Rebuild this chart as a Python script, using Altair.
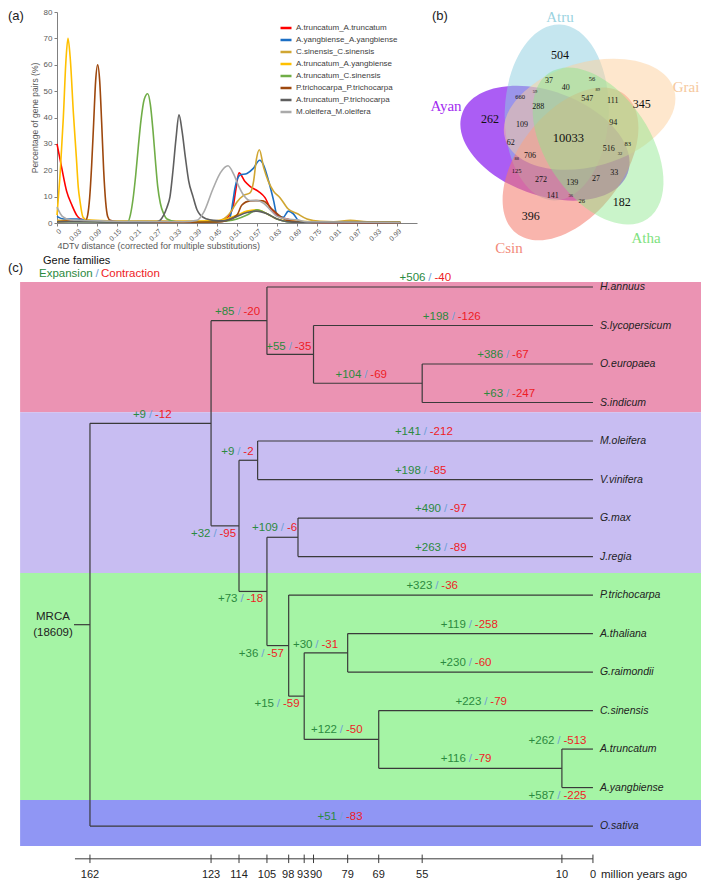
import math
import altair as alt
import pandas as pd

FONT = "Liberation Sans"
SERIF = "Liberation Serif"

# Whole figure is one view of W x H pixels; every panel has its own scales placed by range.
W, H = 693, 872

# ============================ (a) 4DTv distributions ============================
SERIES = [
    "A.truncatum_A.truncatum", "A.yangbiense_A.yangbiense", "C.sinensis_C.sinensis",
    "A.truncatum_A.yangbiense", "A.truncatum_C.sinensis", "P.trichocarpa_P.trichocarpa",
    "A.truncatum_P.trichocarpa", "M.oleifera_M.oleifera",
]
SERIES_COLORS = ["#ff0000", "#1c6fc4", "#d0a632", "#ffc000", "#70ad47", "#9e480e", "#5f5f5f", "#aaaaaa"]
X_TICKS_A = [0, 0.03, 0.09, 0.15, 0.21, 0.27, 0.33, 0.39, 0.45, 0.51, 0.57, 0.63,
             0.69, 0.75, 0.81, 0.87, 0.93, 0.99]
Y_TICKS_A = [0, 10, 20, 30, 40, 50, 60, 70, 80]

tt_x = [0, 0.007, 0.0145, 0.022, 0.03, 0.04, 0.06, 0.1, 0.2, 0.3, 0.4, 0.45, 0.47, 0.49,
        0.498, 0.507, 0.516, 0.534, 0.549, 0.574, 0.594, 0.609, 0.62, 0.64, 0.66, 0.7, 0.8, 1.0]
tt_y = [30, 21, 12, 7, 2.8, 1.5, 1.0, 0.6, 0.3, 0.3, 0.3, 0.6, 1.2, 3.5,
        6, 13, 19, 15.7, 13.9, 12, 9.6, 5.9, 4, 2.2, 1.5, 0.4, 0.2, 0.1]
yy_x = [0, 0.01, 0.03, 0.05, 0.1, 0.2, 0.45, 0.48, 0.489, 0.498, 0.504, 0.519, 0.54,
        0.559, 0.578, 0.59, 0.605, 0.62, 0.629, 0.649, 0.664, 0.678, 0.699, 0.75, 1.0]
yy_y = [2.5, 1.5, 1.5, 1.2, 0.5, 0.4, 0.5, 1.2, 2.2, 8.4, 13.3, 18.2, 18.8,
        20.7, 23.8, 21.9, 15.8, 8.4, 3.5, 2.2, 4.5, 3.6, 0.5, 0.3, 0.2]
cc_x = [0, 0.05, 0.2, 0.4, 0.46, 0.48, 0.494, 0.51, 0.53, 0.549, 0.56, 0.568, 0.577,
        0.59, 0.604, 0.62, 0.639, 0.663, 0.69, 0.72, 0.76, 0.8, 0.85, 0.9, 1.0]
cc_y = [1, 0.8, 0.8, 0.6, 1, 2.5, 4.7, 8, 10.5, 11.4, 16, 24, 27.8,
        21, 15.8, 12, 9.6, 5.4, 3.6, 1.5, 0.6, 0.5, 1.0, 0.5, 0.3]
ty_x = [0, 0.005, 0.0095, 0.0135, 0.0165, 0.02, 0.0245, 0.029, 0.034, 0.039, 0.048, 0.06,
        0.12, 0.3, 0.45, 0.51, 0.54, 0.57, 0.6, 0.63, 0.66, 0.8, 1.0]
ty_y = [3, 20, 40, 62, 70, 62, 42, 25, 13.3, 8.3, 2.2, 1.2,
        0.8, 0.5, 0.8, 3, 4.5, 5, 3.5, 1.5, 0.8, 0.4, 0.3]
tc_x = [0, 0.1, 0.17, 0.183, 0.19, 0.198, 0.206, 0.214, 0.222, 0.232, 0.242, 0.25, 0.258,
        0.265, 0.272, 0.28, 0.29, 0.3, 0.33, 0.4, 0.48, 0.51, 0.54, 0.57, 0.6, 0.63, 0.66, 0.7, 1.0]
tc_y = [0.5, 0.5, 0.3, 0.5, 3, 9, 18, 29, 39, 47, 49, 45, 35,
        24, 14, 7.5, 3.5, 1.5, 0.4, 0.3, 0.8, 1.5, 3, 5, 3.5, 1.5, 0.5, 0.3, 0.2]
pp_x = [0, 0.03, 0.055, 0.062, 0.068, 0.074, 0.08, 0.086, 0.092, 0.098, 0.104, 0.11, 0.116,
        0.122, 0.13, 0.15, 0.3, 0.45, 0.48, 0.51, 0.524, 0.549, 0.57, 0.588, 0.614, 0.64, 0.66, 0.7, 1.0]
pp_y = [0.5, 0.8, 0.8, 3, 9.6, 22, 38, 54, 60, 54, 38, 20, 8,
        2.5, 1, 0.5, 0.3, 0.4, 1, 3, 6.7, 8.4, 8.5, 8.4, 5.4, 2.5, 1, 0.3, 0.2]
tp_x = [0, 0.03, 0.2, 0.27, 0.279, 0.29, 0.3, 0.309, 0.318, 0.327, 0.336, 0.345, 0.355, 0.365,
        0.378, 0.39, 0.4, 0.42, 0.44, 0.47, 0.5, 0.54, 0.57, 0.6, 0.63, 0.66, 0.7, 1.0]
tp_y = [0.5, 0.5, 0.3, 0.5, 1, 3, 6, 10, 20, 32, 41, 35, 25, 16,
        10, 5, 3, 1.5, 1, 0.8, 2, 4, 4.5, 3.5, 1.5, 0.5, 0.3, 0.2]
mm_x = [0, 0.008, 0.02, 0.05, 0.1, 0.2, 0.35, 0.39, 0.41, 0.438, 0.46, 0.483, 0.5, 0.515,
        0.53, 0.55, 0.57, 0.59, 0.61, 0.63, 0.66, 0.69, 0.72, 1.0]
mm_y = [6, 2.5, 1.2, 1, 0.8, 0.6, 0.5, 1, 4, 13, 19, 21.7, 18.5, 14,
        10.5, 8.5, 8.5, 7.5, 5, 2.5, 1.5, 1.2, 0.5, 0.2]

CURVE_X = [tt_x, yy_x, cc_x, ty_x, tc_x, pp_x, tp_x, mm_x]
CURVE_Y = [tt_y, yy_y, cc_y, ty_y, tc_y, pp_y, tp_y, mm_y]

rows = []
for name, xs, ys in zip(SERIES, CURVE_X, CURVE_Y):
    for k, (xv, yv) in enumerate(zip(xs, ys)):
        rows.append({"pair": name, "dist": xv, "pct": yv, "k": k})
df_a = pd.DataFrame(rows)

# panel (a) placement inside the figure (pixels)
A_LEFT, A_RIGHT, A_TOP, A_BOTTOM = 49, 409, 4, 215
AX_GRAY = "#808080"
TXT_GRAY = "#595959"

lines_a = alt.Chart(df_a).mark_line(interpolate="monotone", strokeWidth=1.6).encode(
    x=alt.X("dist:Q",
            scale=alt.Scale(domain=[0, 0.03, 1.05], range=[A_LEFT, A_LEFT + 20, A_RIGHT],
                            nice=False, zero=False),
            axis=alt.Axis(orient="bottom", offset=A_BOTTOM - H, values=X_TICKS_A, format=".2~f",
                          labelAngle=315, labelFontSize=7, labelColor=TXT_GRAY, labelPadding=1,
                          tickSize=3, tickColor=AX_GRAY, domainColor=AX_GRAY, grid=False,
                          labelFont=FONT, titleFont=FONT,
                          title="4DTv distance (corrected for multiple substitutions)",
                          titleFontSize=9, titleColor=TXT_GRAY, titleFontWeight="normal",
                          titlePadding=0, titleAnchor="start")),
    y=alt.Y("pct:Q", scale=alt.Scale(domain=[0, 80], range=[A_BOTTOM, A_TOP], nice=False),
            axis=alt.Axis(orient="left", offset=-A_LEFT, values=Y_TICKS_A, labelFontSize=8,
                          labelColor=TXT_GRAY, tickSize=3, tickColor=AX_GRAY, domainColor=AX_GRAY,
                          grid=False, labelPadding=2, labelFont=FONT, titleFont=FONT,
                          title="Percentage of gene pairs (%)", titleFontSize=8.5,
                          titleColor=TXT_GRAY, titleFontWeight="normal", titlePadding=4)),
    color=alt.Color("pair:N", scale=alt.Scale(domain=SERIES, range=SERIES_COLORS),
                    legend=alt.Legend(title=None, orient="none", legendX=A_LEFT + 222, legendY=13,
                                      symbolType="stroke", symbolStrokeWidth=2.5, symbolSize=121,
                                      labelFontSize=8, labelColor="#404040", rowPadding=0,
                                      labelOffset=3, labelFont=FONT)),
    order="k:Q",
)
letter_a = alt.Chart(pd.DataFrame({"t": ["(a)"]})).mark_text(
    align="left", baseline="middle", fontSize=13, font=FONT, color="#222222"
).encode(text="t:N", x=alt.value(0), y=alt.value(8))
layer_a = alt.layer(lines_a, letter_a)

# ============================ (b) Venn diagram ============================
VENN_SETS = ["Ayan", "Atru", "Csin", "Grai", "Atha"]
VENN_LABEL_COLORS = ["#a22cf0", "#9bd3df", "#f28a7a", "#f6c89c", "#7ee27e"]
VENN_FILL = ["#8a1ff0", "#8ccde0", "#f4786a", "#fdd09c", "#8ae68a"]
VENN_ALPHA = [0.72, 0.5, 0.55, 0.5, 0.45]
REGION_COUNTS = [504, 345, 182, 396, 262, 10033, 37, 56, 40, 89, 660, 59, 547, 111, 288, 94,
                 109, 62, 516, 83, 32, 88, 706, 125, 33, 272, 139, 27, 141, 36, 26]

B_LEFT, B_W, B_H = 422, 271, 248
G_U, G_V, D_OFF = 142, 128, 28
ELL_A, ELL_B = 88, 52
CENTER_DIR = [165, 237, 93, 309, 21]
ELL_ROT = [20, 92, 128, 164, 56]
LABEL_UV = [(16, 98), (130, 9), (79, 240), (256, 79), (216, 230)]
REGION_UV = [(130, 47), (211.7, 96.3), (191.7, 193.7), (100.7, 208), (60, 111), (138.3, 130.3),
             (119, 73), (162, 71.3), (135.7, 80.3), (167.7, 82), (90, 89.3), (105, 84.3),
             (157.3, 91.3), (182.7, 93), (108.3, 98.7), (183.3, 114.7), (92, 117), (80.7, 134.7),
             (178.7, 141), (197.7, 136.3), (190, 146), (86.7, 150.7), (100, 147.7), (86.7, 163),
             (184.3, 164.7), (111, 172), (142.3, 174.7), (166, 171), (122.7, 187.7),
             (140.7, 187.7), (151.7, 192.7)]
REGION_FS = [12, 12, 12, 12, 12, 12.5, 8, 6.5, 8, 4.5, 6.5, 4.5, 8, 8, 8, 8, 8, 8, 8, 6.5, 4.5,
             4.5, 8, 6.5, 8, 8, 8, 8, 8, 4.5, 6.5]

df_ell = pd.DataFrame({
    "set": VENN_SETS,
    "u": [G_U + D_OFF * math.cos(math.radians(c)) for c in CENTER_DIR],
    "v": [G_V + D_OFF * math.sin(math.radians(c)) for c in CENTER_DIR],
    "fill": VENN_FILL, "alpha": VENN_ALPHA, "rot": ELL_ROT,
})
ratio = ELL_B / ELL_A
ELL_PATH = f"M-1,0A1,{ratio:.3f},0,1,1,1,0A1,{ratio:.3f},0,1,1,-1,0Z"

xb = alt.X("u:Q", scale=alt.Scale(domain=[0, B_W], range=[B_LEFT, B_LEFT + B_W], nice=False, zero=False),
           axis=None)
yb = alt.Y("v:Q", scale=alt.Scale(domain=[0, B_H], range=[0, B_H], nice=False, zero=False), axis=None)

ellipses = alt.Chart(df_ell).mark_point(
    shape=ELL_PATH, filled=True, size=(2 * ELL_A) ** 2, strokeWidth=0
).encode(
    x=xb, y=yb,
    fill=alt.Fill("fill:N", scale=None),
    opacity=alt.Opacity("alpha:Q", scale=None),
    angle=alt.Angle("rot:Q", scale=None),
)
df_setlab = pd.DataFrame({"set": VENN_SETS, "u": [p[0] for p in LABEL_UV],
                          "v": [p[1] for p in LABEL_UV], "col": VENN_LABEL_COLORS})
set_labels = alt.Chart(df_setlab).mark_text(font=SERIF, fontSize=15).encode(
    x=xb, y=yb, text="set:N", fill=alt.Fill("col:N", scale=None))
df_reg = pd.DataFrame({"n": [str(c) for c in REGION_COUNTS], "u": [p[0] for p in REGION_UV],
                       "v": [p[1] for p in REGION_UV], "fs": REGION_FS})
region_labels = alt.Chart(df_reg).mark_text(font=SERIF, color="#111111").encode(
    x=xb, y=yb, text="n:N", size=alt.Size("fs:Q", scale=None))
letter_b = alt.Chart(pd.DataFrame({"t": ["(b)"]})).mark_text(
    align="left", baseline="middle", fontSize=13, font=FONT, color="#222222"
).encode(text="t:N", x=alt.value(B_LEFT + 2), y=alt.value(8))
layer_b = alt.layer(ellipses, set_labels, region_labels, letter_b)

# ============================ (c) phylogeny ============================
TIPS = ["H.annuus", "S.lycopersicum", "O.europaea", "S.indicum", "M.oleifera", "V.vinifera",
        "G.max", "J.regia", "P.trichocarpa", "A.thaliana", "G.raimondii", "C.sinensis",
        "A.truncatum", "A.yangbiense", "O.sativa"]
NODE_NAMES = ["root", "n123", "ast105", "ast90", "ast55", "n114", "nX", "nY", "nZ", "nW",
              "nV", "nU", "nT", "nS"]
NODE_AGES = [162, 123, 105, 90, 55, 114, 108, 105, 95, 98, 93, 79, 69, 10]
NODE_CHILDREN = [["n123", "O.sativa"], ["ast105", "n114"], ["H.annuus", "ast90"],
                 ["S.lycopersicum", "ast55"], ["O.europaea", "S.indicum"], ["nX", "nY"],
                 ["M.oleifera", "V.vinifera"], ["nZ", "nW"], ["G.max", "J.regia"],
                 ["P.trichocarpa", "nV"], ["nU", "nT"], ["A.thaliana", "G.raimondii"],
                 ["C.sinensis", "nS"], ["A.truncatum", "A.yangbiense"]]
BRANCH = ["H.annuus", "S.lycopersicum", "O.europaea", "S.indicum", "M.oleifera", "V.vinifera",
          "G.max", "J.regia", "P.trichocarpa", "A.thaliana", "G.raimondii", "C.sinensis",
          "A.truncatum", "A.yangbiense", "O.sativa", "n123", "ast105", "ast90", "ast55", "nX",
          "n114", "nZ", "nY", "nW", "nU", "nV", "nT", "nS"]
GAIN = [506, 198, 386, 63, 141, 198, 490, 263, 323, 119, 230, 223, 262, 587, 51,
        9, 85, 55, 104, 9, 32, 109, 73, 36, 30, 15, 122, 116]
LOSS = [40, 126, 67, 247, 212, 85, 97, 89, 36, 258, 60, 79, 513, 225, 83,
        12, 20, 35, 69, 2, 95, 6, 18, 57, 31, 59, 50, 79]
AXIS_TICKS_C = [162, 123, 114, 105, 98, 93, 90, 79, 69, 55, 10, 0]
AXIS_LABEL_NUDGE = [0, 0, 0, 0, -0.5, -1, 2.5, 0, 0, 0, 0, 0]   # px, keeps 98/93/90 apart
MRCA_FAMILIES = 18609

GREEN_T = "#2b8a3e"
RED_T = "#ee1c25"
SLASH_T = "#6fa0d8"
LINE_C = "#3a3a3a"

C_TOP = 248
X_DOM = [188.4, -34.8]
Y_DOM = [-0.805, 15.40]
PPM = W / (X_DOM[0] - X_DOM[1])               # pixels per million years
PPT = (H - C_TOP) / (Y_DOM[1] - Y_DOM[0])     # pixels per tip row

LABEL_SHIFT = {"ast90": (0, -7), "ast55": (-2, -8), "nX": (-9.5, -8), "n114": (-10, 8),
               "nY": (-11, 8), "nW": (-15, 8), "nU": (-9, -8), "nV": (-18, 8),
               "A.truncatum": (-18.5, -8), "A.yangbiense": (-18.5, 8),
               "P.trichocarpa": (-4, -9), "n123": (0, -8)}
BAND_EDGES = [-0.13, 3.25, 7.43, 13.32, 14.52]
BAND_COLORS = ["#eb93b3", "#c8bdf2", "#a5f4a5", "#9096f4"]
BAND_LEFT_AGE = 184.5
T_AXIS = 14.85

age = {t: 0.0 for t in TIPS}
ypos = {t: float(i) for i, t in enumerate(TIPS)}
children = dict(zip(NODE_NAMES, NODE_CHILDREN))
for n, a in zip(NODE_NAMES, NODE_AGES):
    age[n] = float(a)


def node_y(n):
    if n in ypos:
        return ypos[n]
    ys = [node_y(c) for c in children[n]]
    ypos[n] = sum(ys) / len(ys)
    return ypos[n]


node_y("root")
parent = {c: n for n in NODE_NAMES for c in children[n]}

segs = []
for n in NODE_NAMES:
    cy = [ypos[c] for c in children[n]]
    segs.append({"a0": age[n], "a1": age[n], "y0": min(cy), "y1": max(cy)})
    for c in children[n]:
        segs.append({"a0": age[n], "a1": age[c], "y0": ypos[c], "y1": ypos[c]})
segs.append({"a0": age["root"] + 16 / PPM, "a1": age["root"], "y0": ypos["root"], "y1": ypos["root"]})
df_seg = pd.DataFrame(segs)

labs = []
for c, g, l in zip(BRANCH, GAIN, LOSS):
    p = parent[c]
    mid = (age[p] + age[c]) / 2
    dxp, dyp = LABEL_SHIFT.get(c, (0, -9))
    labs.append({"a": mid - dxp / PPM, "y": ypos[c] + dyp / PPT,
                 "plus": f"+{g}", "minus": f"-{l}", "slash": "/"})
df_lab = pd.DataFrame(labs)

df_band = pd.DataFrame({"a0": [BAND_LEFT_AGE] * 4, "a1": [X_DOM[1]] * 4,
                        "y0": BAND_EDGES[:-1], "y1": BAND_EDGES[1:], "col": BAND_COLORS})
df_tip = pd.DataFrame({"name": TIPS, "a": [0.0] * len(TIPS), "y": [ypos[t] for t in TIPS]})


def XC(f):
    return alt.X(f, scale=alt.Scale(domain=X_DOM, range=[0, W], nice=False, zero=False), axis=None)


def YC(f):
    return alt.Y(f, scale=alt.Scale(domain=Y_DOM, range=[C_TOP, H], nice=False, zero=False), axis=None)


bands = alt.Chart(df_band).mark_rect().encode(
    x=XC("a0:Q"), x2="a1:Q", y=YC("y0:Q"), y2="y1:Q", fill=alt.Fill("col:N", scale=None))
tree = alt.Chart(df_seg).mark_rule(color=LINE_C, strokeWidth=1.2).encode(
    x=XC("a0:Q"), x2="a1:Q", y=YC("y0:Q"), y2="y1:Q")
tips = alt.Chart(df_tip).mark_text(align="left", dx=7, fontSize=10.5, fontStyle="italic",
                                   font=FONT, color="#222222").encode(
    x=XC("a:Q"), y=YC("y:Q"), text="name:N")
lab_plus = alt.Chart(df_lab).mark_text(align="right", dx=-4.5, fontSize=11.5, font=FONT,
                                       color=GREEN_T).encode(x=XC("a:Q"), y=YC("y:Q"), text="plus:N")
lab_slash = alt.Chart(df_lab).mark_text(align="center", fontSize=11.5, font=FONT,
                                        color=SLASH_T).encode(x=XC("a:Q"), y=YC("y:Q"), text="slash:N")
lab_minus = alt.Chart(df_lab).mark_text(align="left", dx=4.5, fontSize=11.5, font=FONT,
                                        color=RED_T).encode(x=XC("a:Q"), y=YC("y:Q"), text="minus:N")

mrca_x = age["root"] + 37 / PPM
df_mrca = pd.DataFrame({"t": ["MRCA", f"({MRCA_FAMILIES})"], "a": [mrca_x, mrca_x],
                        "y": [ypos["root"] - 0.21, ypos["root"] + 0.21]})
mrca = alt.Chart(df_mrca).mark_text(fontSize=11.5, font=FONT, color="#222222").encode(
    x=XC("a:Q"), y=YC("y:Q"), text="t:N")

df_axis = pd.DataFrame({"a0": [age["root"] + 15 / PPM], "a1": [0.0], "y0": [T_AXIS], "y1": [T_AXIS]})
axis_line = alt.Chart(df_axis).mark_rule(color=LINE_C, strokeWidth=1).encode(
    x=XC("a0:Q"), x2="a1:Q", y=YC("y0:Q"), y2="y1:Q")
df_ticks = pd.DataFrame({"a": AXIS_TICKS_C, "y0": [T_AXIS - 0.11] * len(AXIS_TICKS_C),
                         "y1": [T_AXIS + 0.11] * len(AXIS_TICKS_C),
                         "lab": [str(v) for v in AXIS_TICKS_C],
                         "la": [v - d / PPM for v, d in zip(AXIS_TICKS_C, AXIS_LABEL_NUDGE)],
                         "ly": [T_AXIS + 0.43] * len(AXIS_TICKS_C)})
axis_ticks = alt.Chart(df_ticks).mark_rule(color=LINE_C, strokeWidth=1).encode(
    x=XC("a:Q"), y=YC("y0:Q"), y2="y1:Q")
axis_labels = alt.Chart(df_ticks).mark_text(fontSize=11, font=FONT, color="#222222").encode(
    x=XC("la:Q"), y=YC("ly:Q"), text="lab:N")
df_unit = pd.DataFrame({"t": ["million years ago"], "a": [0.0], "y": [T_AXIS + 0.43]})
axis_unit = alt.Chart(df_unit).mark_text(align="left", dx=8, fontSize=11.5, font=FONT,
                                         color="#222222").encode(x=XC("a:Q"), y=YC("y:Q"), text="t:N")

hdr_age = X_DOM[0] - 31 / PPM
df_hdr = pd.DataFrame({"t": ["Gene families"], "a": [hdr_age - 4 / PPM], "y": [-0.675]})
hdr1 = alt.Chart(df_hdr).mark_text(align="left", fontSize=11, font=FONT, color="#111111").encode(
    x=XC("a:Q"), y=YC("y:Q"), text="t:N")
df_hdr2 = pd.DataFrame({"a": [hdr_age], "y": [-0.338]})
hdr_exp = alt.Chart(df_hdr2).mark_text(align="left", fontSize=11.5, font=FONT, color=GREEN_T,
                                       text="Expansion").encode(x=XC("a:Q"), y=YC("y:Q"))
hdr_sl = alt.Chart(df_hdr2).mark_text(align="center", dx=58, fontSize=11.5, font=FONT,
                                      color=SLASH_T, text="/").encode(x=XC("a:Q"), y=YC("y:Q"))
hdr_con = alt.Chart(df_hdr2).mark_text(align="left", dx=62, fontSize=11.5, font=FONT,
                                       color=RED_T, text="Contraction").encode(x=XC("a:Q"), y=YC("y:Q"))
df_letter_c = pd.DataFrame({"t": ["(c)"], "a": [X_DOM[0]], "y": [-0.49]})
letter_c = alt.Chart(df_letter_c).mark_text(align="left", fontSize=13, font=FONT,
                                            color="#222222").encode(x=XC("a:Q"), y=YC("y:Q"), text="t:N")

layer_c = alt.layer(bands, tree, tips, lab_plus, lab_slash, lab_minus, mrca, axis_line,
                    axis_ticks, axis_labels, axis_unit, hdr1, hdr_exp, hdr_sl, hdr_con, letter_c)

chart = alt.layer(layer_c, layer_a, layer_b).resolve_scale(
    x="independent", y="independent", color="independent", fill="independent"
).properties(width=W, height=H, padding=0)
chart = chart.configure(font=FONT).configure_view(stroke="transparent", strokeWidth=0)

chart.save("out.html", embed_options={"renderer": "svg", "actions": False})
